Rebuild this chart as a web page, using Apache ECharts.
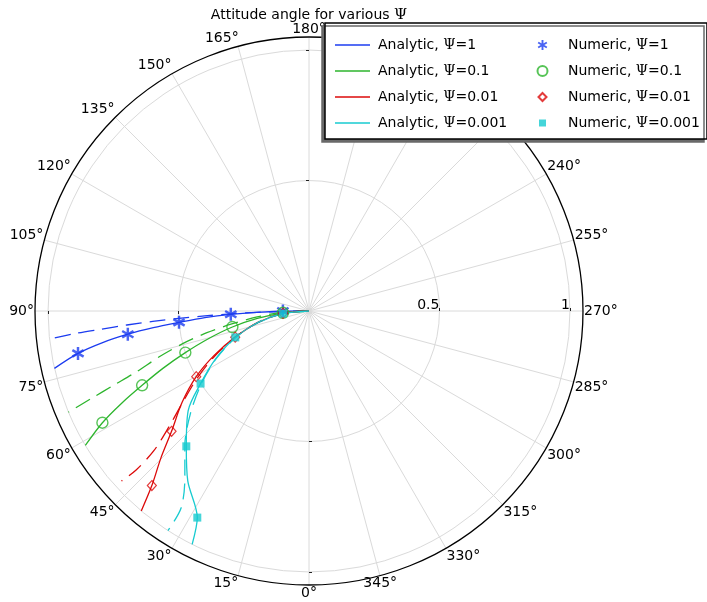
<!DOCTYPE html>
<html><head><meta charset="utf-8">
<script src="https://cdn.jsdelivr.net/npm/echarts@6/dist/echarts.min.js"></script>
<style>html,body{margin:0;padding:0;background:#fff}#c{width:707px;height:602px}</style>
</head><body><div id="c"></div>
<script>
// ---- data (radius = eccentricity, angle = attitude angle in degrees) ----
const radii = [0, 0.1, 0.2, 0.3, 0.4, 0.5, 0.6, 0.7, 0.8, 0.9, 1.0];
const analytic1    = [90, 89.5, 88.6, 87.6, 86.4, 85.0, 83.9, 82.7, 81.3, 79.6, 77.3];
const analytic01   = [90, 85.5, 81.8, 78.2, 74.6, 71.4, 68.6, 66.0, 63.8, 61.6, 59.0];
const analytic001  = [90, 85.0, 77.5, 70.5, 65.0, 59.8, 54.2, 48.8, 45.2, 42.0, 40.0];
const analytic0001 = [90, 84.2, 77.0, 70.3, 63.0, 56.2, 50.5, 42.2, 35.5, 28.4, 26.6];
const dashedRadii    = [0, 0.1, 0.2, 0.3, 0.4, 0.5, 0.6, 0.7, 0.8, 0.9, 1.0];
const dashedRadii001 = [0, 0.1, 0.2, 0.3, 0.4, 0.5, 0.6, 0.7, 0.8, 0.9, 0.97];
const dashed1    = [90, 89.3, 88.6, 87.9, 87.3, 86.8, 86.2, 85.6, 85.0, 84.5, 83.8];
const dashed01   = [90, 87.0, 83.5, 80.5, 78.0, 75.5, 73.0, 70.6, 69.2, 68.1, 67.2];
const dashed001  = [90, 85.0, 77.5, 70.5, 64.5, 59.0, 54.0, 50.3, 48.0, 47.4, 47.8];
const dashed0001 = [90, 84.5, 77.5, 70.0, 62.8, 55.8, 49.2, 42.8, 36.5, 33.0, 32.7];
const numRadii = [0.1, 0.3, 0.5, 0.7, 0.9];
const numeric1    = [90, 87.6, 85.0, 82.7, 79.6];
const numeric01   = [86.0, 78.2, 71.4, 66.0, 61.6];
const numeric001  = [85.0, 70.5, 59.8, 48.8, 42.0];
const numeric0001 = [84.2, 70.3, 56.2, 42.2, 28.4];
const analyticNames = ['Analytic, Ψ=1', 'Analytic, Ψ=0.1', 'Analytic, Ψ=0.01', 'Analytic, Ψ=0.001'];
const numericNames  = ['Numeric, Ψ=1', 'Numeric, Ψ=0.1', 'Numeric, Ψ=0.01', 'Numeric, Ψ=0.001'];
const radiusTicks = [0.5, 1];
const titleText = 'Attitude angle for various Ψ';

// ---- styling ----
const colors = ['#1c3cf0', '#2db52d', '#dc0a0a', '#17cbd0'];
const FONT = 'DejaVu Sans';

function asterisk() {
  const L = 10, w = 1.9;
  let p = 'path://';
  [90, 30, 150].forEach(a => {
    const r = a * Math.PI / 180, ux = Math.cos(r), uy = Math.sin(r), nx = -uy, ny = ux;
    const pts = [[ux*L+nx*w, uy*L+ny*w], [ux*L-nx*w, uy*L-ny*w], [-ux*L-nx*w, -uy*L-ny*w], [-ux*L+nx*w, -uy*L+ny*w]];
    p += 'M' + pts.map(q => q[0].toFixed(2) + ' ' + q[1].toFixed(2)).join(' L') + ' Z ';
  });
  return p;
}
const lineIcon = 'path://M0 0 L35 0 L35 1.3 L0 1.3 Z';
const diamondIcon = 'path://M-5 -5 M5 5 M0 -4 L4 0 L0 4 L-4 0 Z';
const squareIcon = 'path://M-5 -5 M5 5 M-3.5 -3.5 L3.5 -3.5 L3.5 3.5 L-3.5 3.5 Z';

const toPolar = (rs, th) => rs.map((r, i) => [r, th[i]]);
const analyticSets = [analytic1, analytic01, analytic001, analytic0001];
const dashedSets = [dashed1, dashed01, dashed001, dashed0001];
const dashedRadiiSets = [dashedRadii, dashedRadii, dashedRadii001, dashedRadii];
const numericSets = [numeric1, numeric01, numeric001, numeric0001];

const series = [];
analyticSets.forEach((arr, k) => {
  series.push({type: 'line', name: analyticNames[k], coordinateSystem: 'polar', polarIndex: 0,
    symbol: 'none', symbolKeepAspect: true, smooth: 0.3, lineStyle: {color: colors[k], width: 1.3},
    itemStyle: {color: colors[k]}, data: toPolar(radii, arr), z: 3});
});
dashedSets.forEach((arr, k) => {
  series.push({type: 'line', name: 'dashed' + k, coordinateSystem: 'polar', polarIndex: 0,
    symbol: 'none', smooth: 0.3, lineStyle: {color: colors[k], width: 1.3, type: [16, 8]}, itemStyle: {color: colors[k]},
    data: toPolar(dashedRadiiSets[k], arr), z: 3});
});
const markerDefs = [
  {symbol: asterisk(), size: 13, itemStyle: {color: colors[0]}},
  {symbol: 'circle', size: 11, itemStyle: {color: 'rgba(0,0,0,0)', borderColor: colors[1], borderWidth: 1.4}},
  {symbol: 'diamond', size: [9, 10], itemStyle: {color: 'rgba(0,0,0,0)', borderColor: colors[2], borderWidth: 1.2}},
  {symbol: 'rect', size: 8, itemStyle: {color: colors[3]}}
];
numericSets.forEach((arr, k) => {
  const m = markerDefs[k];
  series.push({type: 'scatter', name: numericNames[k], coordinateSystem: 'polar', polarIndex: 0,
    symbol: m.symbol, symbolSize: m.size, symbolKeepAspect: true, itemStyle: m.itemStyle,
    data: toPolar(numRadii, arr), z: 4});
});

const legendData = analyticNames.map(n => ({name: n, icon: lineIcon, itemStyle: {borderWidth: 0}}))
  .concat([
    {name: numericNames[0]},
    {name: numericNames[1]},
    {name: numericNames[2], icon: diamondIcon},
    {name: numericNames[3], icon: squareIcon}
  ]);

const center = [309, 311], R = 274;
const baseRadius = {type: 'value', min: 0, max: 1.05, interval: 0.5};
const tickFmt = v => (Math.abs(v - 0.5) < 1e-9 ? '0.5' : (Math.abs(v - 1) < 1e-9 ? '1' : ''));
const angleFmt = v => {
  if (v >= 360) return '';
  const s = v + '°';
  if (v === 15) return '{r2|' + s + '}';
  if (v === 165 || v === 195) return '{r3|' + s + '}';
  if (v === 105 || v === 255) return '{up|' + s + '}';
  if (v === 75 || v === 285) return '{dn|' + s + '}';
  return s;
};
const lblBase = {fontFamily: FONT, fontSize: 14, color: '#000'};

const polar = [0, 1, 2, 3].map(() => ({center: center, radius: R}));
const angleAxis = [
  {polarIndex: 0, type: 'value', min: 0, max: 360, interval: 15, startAngle: 270, clockwise: true,
   axisLine: {show: true, lineStyle: {color: '#000', width: 1.3}},
   axisTick: {show: false},
   axisLabel: {show: true, margin: 1, fontFamily: FONT, fontSize: 14, color: '#000', formatter: angleFmt,
     rich: {r2: Object.assign({padding: [0, 24, 0, 0]}, lblBase),
            r3: Object.assign({padding: [0, 32, 0, 0]}, lblBase),
            up: Object.assign({padding: [0, 0, 8, 0]}, lblBase),
            dn: Object.assign({padding: [10, 0, 0, 0]}, lblBase)}},
   splitLine: {show: true, lineStyle: {color: '#dadada', width: 1}}},
  {polarIndex: 1, type: 'value', min: 0, max: 360, startAngle: 0, show: false},
  {polarIndex: 2, type: 'value', min: 0, max: 360, startAngle: 180, show: false},
  {polarIndex: 3, type: 'value', min: 0, max: 360, startAngle: 90, show: false}
];
const tickStyle = {show: true, length: 3, customValues: radiusTicks, lineStyle: {color: '#222', width: 1}};
const radiusAxis = [
  Object.assign({polarIndex: 0}, baseRadius, {axisLine: {show: false}, axisTick: tickStyle,
    axisLabel: {show: false}, splitLine: {show: true, lineStyle: {color: '#dadada', width: 1}}}),
  Object.assign({polarIndex: 1}, baseRadius, {axisLine: {show: false}, axisTick: tickStyle,
    axisLabel: {show: true, customValues: radiusTicks, formatter: tickFmt, align: 'right', margin: -1,
      fontFamily: FONT, fontSize: 14, color: '#000'}, splitLine: {show: false}}),
  Object.assign({polarIndex: 2}, baseRadius, {axisLine: {show: false}, axisTick: tickStyle,
    axisLabel: {show: false}, splitLine: {show: false}}),
  Object.assign({polarIndex: 3}, baseRadius, {axisLine: {show: false}, axisTick: tickStyle,
    axisLabel: {show: false}, splitLine: {show: false}})
];

const chart = echarts.init(document.getElementById('c'), null, {renderer: 'canvas'});
chart.setOption({
  animation: false,
  backgroundColor: '#fff',
  title: {text: titleText.replace('Ψ', '{p|Ψ}'), left: 309, top: 8, textAlign: 'center', padding: 0,
    textStyle: {fontFamily: FONT, fontSize: 14, fontWeight: 'normal', color: '#000',
      rich: {p: {fontFamily: 'DejaVu Serif', fontSize: 15, color: '#000'}}}},
  legend: {
    orient: 'vertical', left: 325, top: 23, height: 95,
    padding: [15, 4, 9, 10], itemGap: 12, itemWidth: 35, itemHeight: 10,
    backgroundColor: '#fff', borderColor: '#000', borderWidth: 1.5, borderRadius: 0,
    shadowColor: '#6a6a6a', shadowOffsetX: -3, shadowOffsetY: 3, shadowBlur: 0,
    textStyle: {fontFamily: FONT, fontSize: 14, color: '#000', width: 135, lineHeight: 14, padding: [0, 0, 0, 3],
      rich: {p: {fontFamily: 'DejaVu Serif', fontSize: 14, lineHeight: 14, color: '#000'}}},
    formatter: n => n.replace('Ψ', '{p|Ψ}'),
    data: legendData,
    selectedMode: false
  },
  polar: polar,
  angleAxis: angleAxis,
  radiusAxis: radiusAxis,
  series: series
});
</script></body></html>
